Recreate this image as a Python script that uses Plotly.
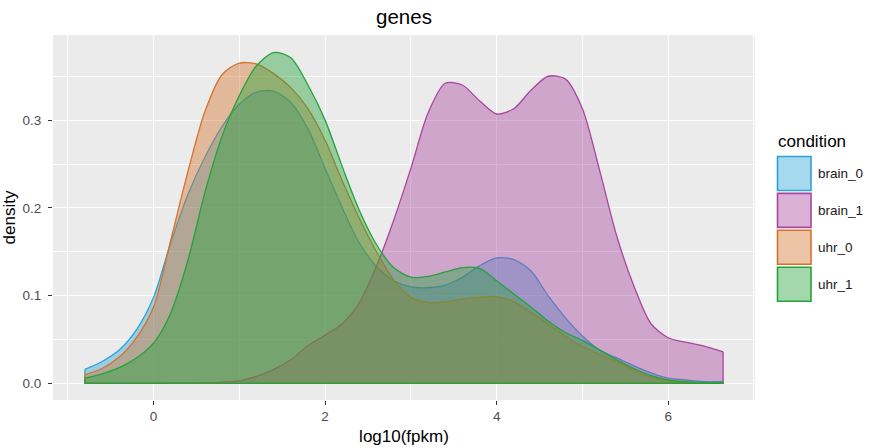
import plotly.graph_objects as go

# ---- data ----
x_grid = [-0.8, -0.6, -0.4, -0.2, 0.0, 0.2, 0.4, 0.6, 0.8, 1.0, 1.2, 1.4, 1.6, 1.8,
          2.0, 2.2, 2.4, 2.6, 2.8, 3.0, 3.2, 3.4, 3.6, 3.8, 4.0, 4.2, 4.4, 4.6, 4.8,
          5.0, 5.2, 5.4, 5.6, 5.8, 6.0, 6.2, 6.4, 6.64]

brain_0 = [0.016, 0.025, 0.038, 0.061, 0.098, 0.160, 0.215, 0.258, 0.293, 0.318,
           0.332, 0.333, 0.320, 0.290, 0.245, 0.200, 0.160, 0.133, 0.117, 0.110,
           0.109, 0.112, 0.121, 0.134, 0.143, 0.141, 0.128, 0.100, 0.075, 0.054,
           0.038, 0.029, 0.020, 0.012, 0.006, 0.004, 0.002, 0.002]

brain_1 = [0.0, 0.0, 0.0, 0.0, 0.0, 0.0002, 0.0004, 0.0008, 0.0015, 0.003,
           0.008, 0.016, 0.027, 0.043, 0.055, 0.068, 0.092, 0.134, 0.186, 0.245,
           0.308, 0.342, 0.340, 0.322, 0.307, 0.313, 0.334, 0.350, 0.347, 0.313,
           0.243, 0.168, 0.111, 0.068, 0.052, 0.047, 0.043, 0.036]

uhr_0 = [0.010, 0.017, 0.030, 0.052, 0.087, 0.163, 0.241, 0.310, 0.352, 0.365,
         0.364, 0.353, 0.337, 0.313, 0.277, 0.231, 0.188, 0.150, 0.118, 0.098,
         0.092, 0.093, 0.096, 0.098, 0.099, 0.093, 0.081, 0.068, 0.054, 0.042,
         0.033, 0.025, 0.015, 0.007, 0.003, 0.001, 0.0005, 0.0003]

uhr_1 = [0.006, 0.011, 0.018, 0.029, 0.046, 0.080, 0.140, 0.218, 0.282, 0.328,
         0.362, 0.377, 0.371, 0.340, 0.300, 0.247, 0.197, 0.158, 0.132, 0.121,
         0.122, 0.127, 0.132, 0.131, 0.117, 0.102, 0.087, 0.071, 0.058, 0.049,
         0.038, 0.027, 0.017, 0.009, 0.004, 0.002, 0.001, 0.001]

conditions = ["brain_0", "brain_1", "uhr_0", "uhr_1"]
series = [brain_0, brain_1, uhr_0, uhr_1]
x_ticks = [0, 2, 4, 6]
y_ticks = [0.0, 0.1, 0.2, 0.3]

# ---- styling ----
line_colors = ["#2ba3d6", "#a9469f", "#d4722c", "#24a33a"]
alpha = 0.42


def rgba(hex_color, a):
    h = hex_color.lstrip("#")
    r, g, b = int(h[0:2], 16), int(h[2:4], 16), int(h[4:6], 16)
    return f"rgba({r},{g},{b},{a})"


fig = go.Figure()
for name, ys, col in zip(conditions, series, line_colors):
    fig.add_trace(go.Scatter(
        x=x_grid, y=ys, name=name, mode="lines",
        line=dict(color=col, width=1.3, shape="spline", smoothing=0.8),
        fill="tozeroy", fillcolor=rgba(col, alpha),
        showlegend=False, hoverinfo="x+y+name"))
    # end edges and baseline of the density polygon
    fig.add_trace(go.Scatter(
        x=[x_grid[0], x_grid[0], x_grid[-1], x_grid[-1]],
        y=[ys[0], 0, 0, ys[-1]],
        mode="lines", line=dict(color=col, width=1.3),
        showlegend=False, hoverinfo="skip"))

W, H = 873, 448
# panel edges in pixels
panel_l, panel_r, panel_t, panel_b = 53, 755, 35, 400
pw, ph = panel_r - panel_l, panel_b - panel_t


def px_x(p):
    return (p - panel_l) / pw


def px_y(p):
    return (panel_b - p) / ph


shapes = []
annotations = [dict(text="condition", x=px_x(776), y=px_y(141), xref="paper", yref="paper",
                    xanchor="left", yanchor="middle", showarrow=False,
                    font=dict(size=17, color="#000000"))]
key_top0, key_step, key_h = 156.5, 36.9, 34.0
for i, (name, col) in enumerate(zip(conditions, line_colors)):
    top = key_top0 + i * key_step
    shapes.append(dict(type="rect", xref="paper", yref="paper",
                       x0=px_x(777.5), x1=px_x(811), y0=px_y(top + key_h), y1=px_y(top),
                       fillcolor=rgba(col, alpha), line=dict(color=col, width=1.6)))
    annotations.append(dict(text=name, x=px_x(816), y=px_y(top + key_h / 2),
                            xref="paper", yref="paper", xanchor="left", yanchor="middle",
                            showarrow=False, font=dict(size=13.5, color="#1a1a1a")))

fig.update_layout(
    width=W, height=H,
    margin=dict(l=panel_l, r=W - panel_r, t=panel_t, b=H - panel_b, autoexpand=False),
    paper_bgcolor="white", plot_bgcolor="#ebebeb",
    font=dict(family="Liberation Sans, Arial, sans-serif", color="#000000"),
    title=dict(text="genes", x=(panel_l + pw / 2) / W, xanchor="center",
               y=1 - 17 / H, yanchor="middle", yref="container",
               font=dict(size=20.5, color="#000000")),
    showlegend=False,
    hovermode="closest",
    shapes=shapes, annotations=annotations,
    xaxis=dict(range=[-1.172, 7.012], tickvals=x_ticks, ticktext=[str(v) for v in x_ticks],
               automargin=False,
               showgrid=True, gridcolor="white", gridwidth=1.2, zeroline=False,
               ticks="outside", ticklen=4, tickwidth=1, tickcolor="#333333",
               tickfont=dict(size=13.5, color="#4d4d4d"),
               minor=dict(tickvals=[-1, 1, 3, 5, 7], showgrid=True, gridcolor="white",
                          gridwidth=0.6, ticks=""),
               title=dict(text="log10(fpkm)", font=dict(size=17), standoff=6),
               showline=False),
    yaxis=dict(range=[-0.0189, 0.397], tickvals=y_ticks,
               ticktext=[f"{v:.1f}" for v in y_ticks],
               automargin=False,
               showgrid=True, gridcolor="white", gridwidth=1.2, zeroline=False,
               ticks="outside", ticklen=4, tickwidth=1, tickcolor="#333333",
               ticklabelstandoff=4,
               tickfont=dict(size=13.5, color="#4d4d4d"),
               minor=dict(tickvals=[0.05, 0.15, 0.25, 0.35], showgrid=True,
                          gridcolor="white", gridwidth=0.6, ticks=""),
               title=dict(text="density", font=dict(size=17), standoff=2),
               showline=False),
)

# remove the default 8px page margin so the figure sits at the window's corner
fig.write_html("out.html",
               config={"displayModeBar": False},
               post_script="document.body.style.margin='0';document.body.style.overflow='hidden';")
